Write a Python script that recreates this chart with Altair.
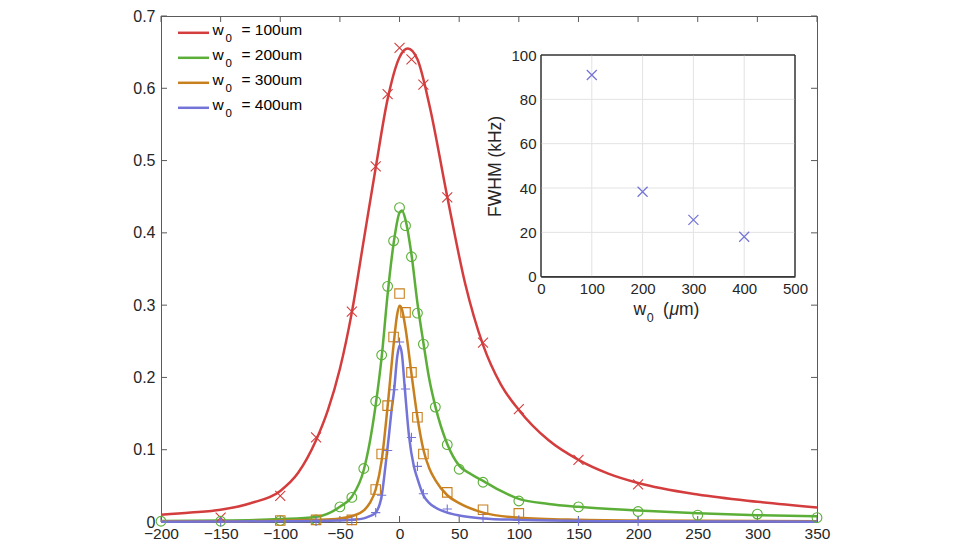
import altair as alt
import pandas as pd

# ---------------- data ----------------
SERIES = ["100", "200", "300", "400"]
LEGEND_LABELS = ["= 100um", "= 200um", "= 300um", "= 400um"]
COLORS = ["#D43D3D", "#5BAF38", "#C8801F", "#7373D8"]

RED_FIT_X = [-200, -175, -150, -125, -100, -85, -70, -60, -50, -40, -30, -20, -10, 0, 7, 15, 25, 40, 55, 70, 85, 100, 125, 150, 175, 200, 250, 300, 350]
RED_FIT_Y = [0.010, 0.013, 0.017, 0.026, 0.043, 0.068, 0.113, 0.155, 0.212, 0.290, 0.390, 0.490, 0.585, 0.643, 0.655, 0.640, 0.577, 0.450, 0.330, 0.245, 0.190, 0.155, 0.113, 0.086, 0.067, 0.054, 0.038, 0.028, 0.020]

GREEN_FIT_X = [-200, -150, -100, -70, -50, -40, -30, -25, -20, -15, -10, -5, 0, 2, 5, 10, 15, 20, 25, 30, 40, 50, 60, 70, 85, 100, 125, 150, 200, 250, 300, 350]
GREEN_FIT_Y = [0.0015, 0.002, 0.004, 0.007, 0.021, 0.035, 0.072, 0.110, 0.162, 0.228, 0.315, 0.385, 0.428, 0.431, 0.418, 0.370, 0.303, 0.248, 0.197, 0.160, 0.108, 0.078, 0.066, 0.057, 0.043, 0.032, 0.025, 0.021, 0.016, 0.012, 0.0095, 0.008]

ORANGE_FIT_X = [-200, -150, -100, -70, -50, -40, -30, -25, -20, -15, -10, -5, -2, 0, 2, 5, 10, 15, 20, 25, 30, 40, 50, 70, 100, 150, 200, 350]
ORANGE_FIT_Y = [0.001, 0.001, 0.002, 0.003, 0.005, 0.008, 0.016, 0.026, 0.045, 0.085, 0.160, 0.245, 0.287, 0.299, 0.294, 0.268, 0.205, 0.145, 0.100, 0.074, 0.058, 0.037, 0.026, 0.013, 0.006, 0.003, 0.002, 0.001]

BLUE_FIT_X = [-200, -150, -100, -50, -40, -30, -25, -20, -15, -12, -9, -7, -4.5, -2, 0, 2, 4.5, 8, 12, 15, 20, 25, 30, 40, 50, 70, 100, 150, 200, 350]
BLUE_FIT_Y = [0.0005, 0.0007, 0.001, 0.002, 0.003, 0.005, 0.008, 0.013, 0.036, 0.075, 0.118, 0.150, 0.183, 0.228, 0.244, 0.232, 0.183, 0.118, 0.077, 0.060, 0.037, 0.026, 0.020, 0.013, 0.009, 0.005, 0.003, 0.0015, 0.001, 0.0005]

RED_X = [-150, -100, -70, -40, -20, -10, 0, 10, 20, 40, 70, 100, 150, 200]
RED_Y = [0.006, 0.036, 0.117, 0.291, 0.492, 0.592, 0.656, 0.640, 0.605, 0.449, 0.248, 0.156, 0.086, 0.052]

GREEN_X = [-200, -150, -100, -70, -50, -40, -30, -20, -15, -10, -5, 0, 5, 10, 15, 20, 30, 40, 50, 70, 100, 150, 200, 250, 300, 350]
GREEN_Y = [0.001, 0.001, 0.002, 0.003, 0.021, 0.034, 0.074, 0.167, 0.231, 0.326, 0.389, 0.435, 0.410, 0.367, 0.289, 0.246, 0.159, 0.107, 0.073, 0.055, 0.029, 0.021, 0.0145, 0.0095, 0.011, 0.006]

ORANGE_X = [-100, -70, -40, -20, -15, -10, -5, 0, 5, 10, 15, 20, 40, 70, 100]
ORANGE_Y = [0.002, 0.003, 0.003, 0.045, 0.094, 0.161, 0.256, 0.316, 0.290, 0.207, 0.145, 0.094, 0.041, 0.017, 0.012]

BLUE_X = [-150, -70, -40, -20, -15, -10, -5, 0, 5, 10, 15, 20, 40, 70, 100, 150, 200]
BLUE_Y = [0.0, 0.001, 0.002, 0.013, 0.037, 0.099, 0.183, 0.249, 0.184, 0.117, 0.077, 0.039, 0.018, 0.005, 0.003, 0.001, 0.001]

XTICKS = [-200, -150, -100, -50, 0, 50, 100, 150, 200, 250, 300, 350]
YTICKS = [0, 0.1, 0.2, 0.3, 0.4, 0.5, 0.6, 0.7]

INSET_W0 = [100, 200, 300, 400]
INSET_FWHM = [91.0, 38.3, 25.6, 18.0]
INSET_XTICKS = [0, 100, 200, 300, 400, 500]
INSET_YTICKS = [0, 20, 40, 60, 80, 100]

# ---------------- layout / style ----------------
W, H = 656, 506
TOP = 16  # page y of the plot's top edge (8px page margin + 8 padding)
FONT = "Liberation Sans"
TXT = "#262626"
AXC = "#5a5a5a"
XPATH = "M-1,-1L1,1M-1,1L1,-1"
PLUSPATH = "M-1,0L1,0M0,-1L0,1"

fits = [(RED_FIT_X, RED_FIT_Y), (GREEN_FIT_X, GREEN_FIT_Y), (ORANGE_FIT_X, ORANGE_FIT_Y), (BLUE_FIT_X, BLUE_FIT_Y)]
pts = [(RED_X, RED_Y), (GREEN_X, GREEN_Y), (ORANGE_X, ORANGE_Y), (BLUE_X, BLUE_Y)]

fit_df = pd.concat([pd.DataFrame({"x": fx, "y": fy, "series": s}) for (fx, fy), s in zip(fits, SERIES)], ignore_index=True)
pt_df = pd.concat([pd.DataFrame({"x": px, "y": py, "series": s}) for (px, py), s in zip(pts, SERIES)], ignore_index=True)

color = alt.Color("series:N", scale=alt.Scale(domain=SERIES, range=COLORS), legend=None)

x_main = alt.X("x:Q", scale=alt.Scale(domain=[-200, 350], nice=False, zero=False),
               axis=alt.Axis(values=XTICKS, title=None, tickSize=0, labelFontSize=15.5, labelPadding=4,
                             grid=False, domainColor=AXC, labelColor=TXT, labelFont=FONT,
                             labelFlush=False, labelOverlap=False))
y_main = alt.Y("y:Q", scale=alt.Scale(domain=[0, 0.7], nice=False),
               axis=alt.Axis(values=YTICKS, title=None, tickSize=0, labelFontSize=16, labelPadding=6,
                             grid=False, domainColor=AXC, labelColor=TXT, labelFont=FONT,
                             labelFlush=False, labelOverlap=False,
                             labelExpr="datum.value == 0 ? '0' : format(datum.value, '.1f')"))

curves = alt.Chart(fit_df).mark_line(strokeWidth=2.5, interpolate="monotone").encode(
    x=x_main, y=y_main, color=color, detail="series:N")

markers = alt.Chart(pt_df).mark_point(filled=False, strokeWidth=1.1, opacity=1).encode(
    x=x_main, y=y_main, color=color,
    shape=alt.Shape("series:N", scale=alt.Scale(domain=SERIES, range=[XPATH, "circle", "square", PLUSPATH]), legend=None),
    size=alt.Size("series:N", scale=alt.Scale(domain=SERIES, range=[100, 85, 78, 110]), legend=None))

xt_df = pd.DataFrame({"x": XTICKS})
yt_df = pd.DataFrame({"y": YTICKS})
tick_b = alt.Chart(xt_df).mark_rule(color=AXC, strokeWidth=1).encode(x=x_main, y=alt.value(H), y2=alt.value(H - 6))
tick_t = alt.Chart(xt_df).mark_rule(color=AXC, strokeWidth=1).encode(x=x_main, y=alt.value(0), y2=alt.value(6))
tick_l = alt.Chart(yt_df).mark_rule(color=AXC, strokeWidth=1).encode(y=y_main, x=alt.value(0), x2=alt.value(6))
tick_r = alt.Chart(yt_df).mark_rule(color=AXC, strokeWidth=1).encode(y=y_main, x=alt.value(W), x2=alt.value(W - 6))

main = alt.layer(tick_b, tick_t, tick_l, tick_r, curves, markers)

# ---------------- inset ----------------
IX0, IX1 = 380, 634
IY0, IY1 = 276.7 - TOP, 55 - TOP
x_in = alt.X("w:Q", scale=alt.Scale(domain=[0, 500], range=[IX0, IX1], nice=False, zero=False),
             axis=alt.Axis(orient="bottom", offset=-(H - IY0), values=INSET_XTICKS, title=None, tickSize=0,
                           labelFontSize=15, labelPadding=5, grid=False, domainColor="#333333",
                           labelColor=TXT, labelFont=FONT, labelFlush=False, labelOverlap=False))
y_in = alt.Y("f:Q", scale=alt.Scale(domain=[0, 100], range=[IY0, IY1], nice=False),
             axis=alt.Axis(orient="left", offset=-IX0, values=INSET_YTICKS, title="FWHM (kHz)",
                           titleFontSize=17.5, titleFontWeight="normal", titleFont=FONT, titleColor=TXT,
                           titlePadding=6, tickSize=0, labelFontSize=15, labelPadding=5, grid=False,
                           domainColor="#333333", labelColor=TXT, labelFont=FONT,
                           labelFlush=False, labelOverlap=False))

box_df = pd.DataFrame({"w": [0], "w1": [500], "f": [0], "f1": [100]})
box = alt.Chart(box_df).mark_rect(fill="white", stroke="#333333", strokeWidth=1).encode(
    x=x_in, x2="w1:Q", y=y_in, y2="f1:Q")
gx_df = pd.DataFrame({"w": INSET_XTICKS[1:-1], "f": 0, "f1": 100})
gy_df = pd.DataFrame({"f": INSET_YTICKS[1:-1], "w": 0, "w1": 500})
grid_x = alt.Chart(gx_df).mark_rule(color="#e3e3e3", strokeWidth=1).encode(x=x_in, y=y_in, y2="f1:Q")
grid_y = alt.Chart(gy_df).mark_rule(color="#e3e3e3", strokeWidth=1).encode(y=y_in, x=x_in, x2="w1:Q")
in_df = pd.DataFrame({"w": INSET_W0, "f": INSET_FWHM})
in_pts = alt.Chart(in_df).mark_point(shape=XPATH, filled=False, size=100, color=COLORS[3], strokeWidth=1.2, opacity=1).encode(
    x=x_in, y=y_in)
box_line = alt.Chart(box_df).mark_rect(fill=None, stroke="#333333", strokeWidth=1).encode(
    x=x_in, x2="w1:Q", y=y_in, y2="f1:Q")

inset = alt.layer(box, grid_x, grid_y, box_line, in_pts)

# ---------------- legend + inset x title (text) ----------------
leg_df = pd.DataFrame({"row": [0, 1, 2, 3], "series": SERIES, "label": LEGEND_LABELS})
ly = alt.Y("row:Q", scale=alt.Scale(domain=[0, 3], range=[32.8 - TOP, 107.8 - TOP]), axis=None)
leg_lines = alt.Chart(leg_df).mark_rule(strokeWidth=2.5).encode(y=ly, x=alt.value(17), x2=alt.value(48), color=color)
leg_w = alt.Chart(leg_df).mark_text(align="left", baseline="alphabetic", dy=2.5, fontSize=15.5, font=FONT, color="black").encode(
    y=ly, x=alt.value(51.5), text=alt.value("w"))
leg_sub = alt.Chart(leg_df).mark_text(align="left", baseline="alphabetic", dy=9, fontSize=11.5, font=FONT, color="black").encode(
    y=ly, x=alt.value(64.5), text=alt.value("0"))
leg_txt = alt.Chart(leg_df).mark_text(align="left", baseline="alphabetic", dy=2.5, fontSize=15.5, font=FONT, color="black").encode(
    y=ly, x=alt.value(80.5), text="label:N")

one = pd.DataFrame({"row": [0]})
def label_piece(txt, px, py, size, style="normal"):
    return alt.Chart(one).mark_text(align="left", baseline="alphabetic", fontSize=size, font=FONT,
                                    color=TXT, fontStyle=style).encode(
        x=alt.value(px), y=alt.value(py), text=alt.value(txt))

t1 = label_piece("w", 472.5, 315 - TOP, 17.5)
t2 = label_piece("0", 485.7, 321.7 - TOP, 12.5)
t3 = label_piece("(", 502, 315 - TOP, 17.5)
t4 = label_piece("μ", 508.5, 315 - TOP, 17.5, "italic")
t5 = label_piece("m)", 518, 315 - TOP, 17.5)

overlay = alt.layer(leg_lines, leg_w, leg_sub, leg_txt, t1, t2, t3, t4, t5)

chart = alt.layer(main, inset, overlay).resolve_scale(
    x="independent", y="independent"
).properties(
    width=W, height=H,
    autosize=alt.AutoSizeParams(type="none"),
    padding={"left": 153, "top": TOP - 8, "right": 25, "bottom": 22},
).configure_view(stroke=AXC, strokeWidth=1)

chart.save("out.html", embed_options={"renderer": "svg", "actions": False})
